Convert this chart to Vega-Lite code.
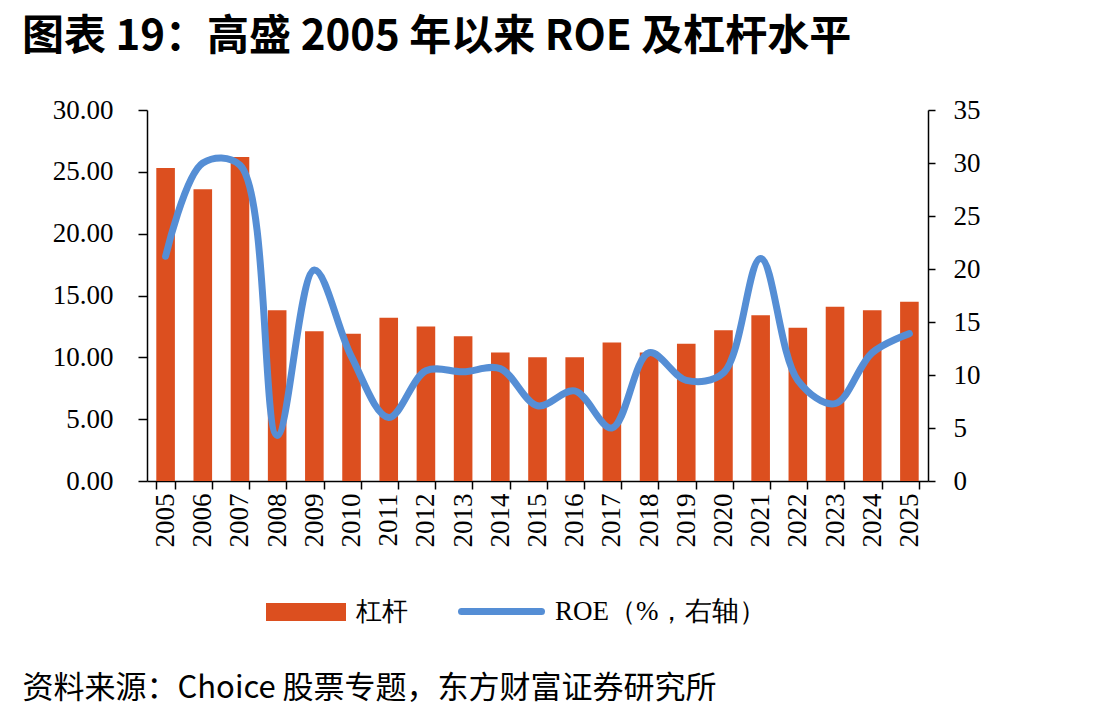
{
  "$schema": "https://vega.github.io/schema/vega-lite/v6.json",
  "width": 781,
  "height": 371,
  "autosize": {"type": "none"},
  "padding": {"left": 147, "top": 110, "right": 174, "bottom": 238},
  "background": "white",
  "config": {
    "view": {"stroke": null},
    "axis": {
      "domainColor": "black",
      "tickColor": "black",
      "labelColor": "black",
      "grid": false,
      "labelFont": "Liberation Serif",
      "labelFontSize": 27,
      "domainWidth": 1.5,
      "tickWidth": 1.5
    }
  },
  "title": {
    "text": "图表 19：高盛 2005 年以来 ROE 及杠杆水平",
    "anchor": "start",
    "frame": "group",
    "dx": -125,
    "offset": 4,
    "baseline": "alphabetic",
    "font": "Noto Sans CJK SC",
    "fontSize": 42,
    "fontWeight": "bold",
    "color": "black"
  },
  "data": {
    "values": [
      {"year": "2005", "leverage": 25.3, "roe": 21.2},
      {"year": "2006", "leverage": 23.6, "roe": 30.0},
      {"year": "2007", "leverage": 26.2, "roe": 29.8},
      {"year": "2008", "leverage": 13.8, "roe": 4.3},
      {"year": "2009", "leverage": 12.1, "roe": 19.9},
      {"year": "2010", "leverage": 11.9, "roe": 11.7},
      {"year": "2011", "leverage": 13.2, "roe": 6.0},
      {"year": "2012", "leverage": 12.5, "roe": 10.4},
      {"year": "2013", "leverage": 11.7, "roe": 10.3},
      {"year": "2014", "leverage": 10.4, "roe": 10.6},
      {"year": "2015", "leverage": 10.0, "roe": 7.1},
      {"year": "2016", "leverage": 10.0, "roe": 8.5},
      {"year": "2017", "leverage": 11.2, "roe": 5.0},
      {"year": "2018", "leverage": 10.4, "roe": 12.1},
      {"year": "2019", "leverage": 11.1, "roe": 9.5},
      {"year": "2020", "leverage": 12.2, "roe": 10.2},
      {"year": "2021", "leverage": 13.4, "roe": 21.0},
      {"year": "2022", "leverage": 12.4, "roe": 9.5},
      {"year": "2023", "leverage": 14.1, "roe": 7.3},
      {"year": "2024", "leverage": 13.8, "roe": 12.1},
      {"year": "2025", "leverage": 14.5, "roe": 13.9}
    ]
  },
  "layer": [
    {
      "mark": {"type": "bar"},
      "encoding": {
        "x": {
          "field": "year",
          "type": "ordinal",
          "scale": {"paddingInner": 0.5, "paddingOuter": 0.25},
          "axis": {
            "labelAngle": -90,
            "tickBand": "extent",
            "tickSize": 8,
            "labelPadding": 4,
            "title": "资料来源：Choice 股票专题，东方财富证券研究所",
            "titleX": -125,
            "titleY": 207,
            "titleAlign": "left",
            "titleBaseline": "middle",
            "titleFont": "Noto Sans CJK SC",
            "titleFontSize": 31,
            "titleFontWeight": "normal",
            "titleColor": "black"
          }
        },
        "y": {
          "field": "leverage",
          "type": "quantitative",
          "scale": {"domain": [0, 30]},
          "axis": {
            "values": [0, 5, 10, 15, 20, 25, 30],
            "format": ".2f",
            "tickSize": 9,
            "labelPadding": 25,
            "title": null
          }
        },
        "fill": {
          "datum": "杠杆",
          "type": "nominal",
          "scale": {"range": ["#DC4F1F"]},
          "legend": {
            "orient": "none",
            "legendX": 119,
            "legendY": 462,
            "title": null,
            "padding": 0,
            "symbolType": "M-1,-0.225H1V0.225H-1Z",
            "symbolSize": 6400,
            "symbolStrokeWidth": 0,
            "labelFont": "Liberation Serif",
            "labelFontSize": 26,
            "labelColor": "black",
            "labelOffset": 10,
            "labelLimit": 400
          }
        }
      }
    },
    {
      "mark": {"type": "line", "interpolate": "catmull-rom", "strokeWidth": 7, "strokeCap": "round"},
      "encoding": {
        "x": {"field": "year", "type": "ordinal"},
        "y": {
          "field": "roe",
          "type": "quantitative",
          "scale": {"domain": [0, 35]},
          "axis": {
            "orient": "right",
            "values": [0, 5, 10, 15, 20, 25, 30, 35],
            "tickSize": 7,
            "labelPadding": 18,
            "title": null
          }
        },
        "stroke": {
          "datum": "ROE（%，右轴）",
          "type": "nominal",
          "scale": {"range": ["#558ED5"]},
          "legend": {
            "orient": "none",
            "legendX": 311,
            "legendY": 458,
            "title": null,
            "padding": 0,
            "symbolType": "M-1,0H1",
            "symbolSize": 6400,
            "symbolStrokeWidth": 7,
            "labelFont": "Liberation Serif",
            "labelFontSize": 27,
            "labelColor": "black",
            "labelOffset": 10,
            "labelLimit": 400,
            "encode": {"symbols": {"update": {"strokeCap": {"value": "round"}}}}
          }
        }
      }
    }
  ],
  "resolve": {"scale": {"y": "independent"}}
}
